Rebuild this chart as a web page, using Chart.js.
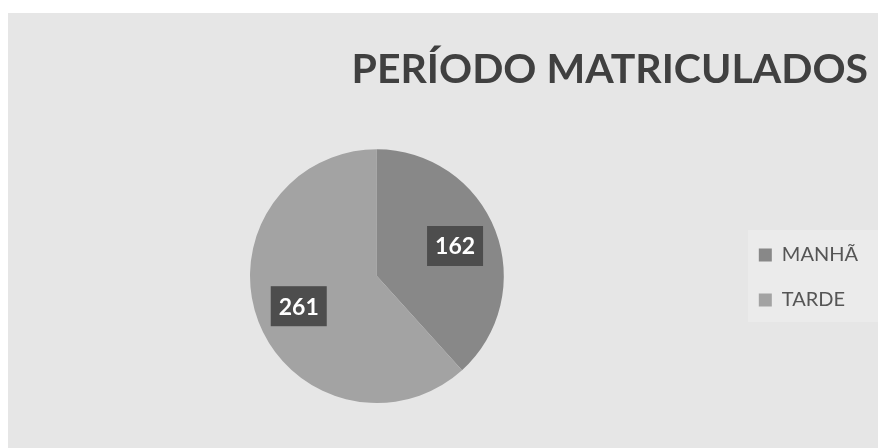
<!DOCTYPE html>
<html>
<head>
<meta charset="utf-8">
<script src="https://cdn.jsdelivr.net/npm/chart.js@4/dist/chart.umd.min.js"></script>
<style>
html, body { margin: 0; padding: 0; background: #fff; }
#wrap { position: relative; width: 878px; height: 448px; }
</style>
</head>
<body>
<div id="wrap"><canvas id="myChart"></canvas></div>
<script>
// categorias
var periodLabels = ['MANHÃ', 'TARDE'];
// matriculados por período
var periodValues = [162, 261];
// cores das fatias
var sliceColors = ['#888888', '#a3a3a3'];

// fundo cinza do gráfico (faixa branca em cima e à esquerda)
var bgPlugin = {
	id: 'bgPlugin',
	beforeDraw: function(chart) {
		var c = chart.ctx;
		c.save();
		c.fillStyle = '#fff';
		c.fillRect(0, 0, chart.width, chart.height);
		c.fillStyle = '#e6e6e6';
		c.fillRect(8, 13, chart.width - 8, chart.height - 13);
		// caixa da legenda um pouco mais clara
		c.fillStyle = '#ebebeb';
		c.fillRect(748, 230, chart.width - 748, 92);
		c.restore();
	}
};

// rótulos de dados em caixa escura
var valueLabels = {
	id: 'valueLabels',
	afterDatasetsDraw: function(chart) {
		var c = chart.ctx;
		var meta = chart.getDatasetMeta(0);
		c.save();
		c.font = 'bold 23px Lato';
		c.textAlign = 'center';
		c.textBaseline = 'middle';
		meta.data.forEach(function(arc, i) {
			var p = arc.getProps(['x', 'y', 'startAngle', 'endAngle', 'outerRadius'], true);
			var mid = (p.startAngle + p.endAngle) / 2;
			var r = p.outerRadius * 0.66;
			var px = p.x + Math.cos(mid) * r;
			var py = p.y + Math.sin(mid) * r;
			var txt = String(periodValues[i]);
			c.fillStyle = '#4d4d4d';
			c.fillRect(px - 28, py - 20, 56, 40);
			c.fillStyle = '#fff';
			c.fillText(txt, px, py + 1);
		});
		c.restore();
	}
};

var ctx = document.getElementById('myChart').getContext('2d');
var chart = new Chart(ctx, {
	type: 'pie',
	data: {
		labels: periodLabels,
		datasets: [{
			data: periodValues,
			backgroundColor: sliceColors,
			borderWidth: 0
		}]
	},
	options: {
		responsive: true,
		maintainAspectRatio: false,
		animation: false,
		layout: {
			padding: { left: 20, right: 10, top: 0, bottom: 45 }
		},
		plugins: {
			title: {
				display: true,
				text: 'PERÍODO MATRICULADOS',
				align: 'end',
				color: '#404040',
				font: { family: 'Lato', size: 41, weight: 'bold' },
				padding: { top: 45, bottom: 55 }
			},
			legend: {
				position: 'right',
				// título vazio só para descer os itens até o meio da pizza
				title: {
					display: true,
					text: ' ',
					font: { size: 10 },
					padding: { top: 140, bottom: 0 }
				},
				labels: {
					boxWidth: 13,
					boxHeight: 13,
					padding: 25,
					color: '#555',
					font: { family: 'Lato', size: 20 }
				}
			},
			tooltip: { enabled: false }
		}
	},
	plugins: [bgPlugin, valueLabels]
});
</script>
</body>
</html>
